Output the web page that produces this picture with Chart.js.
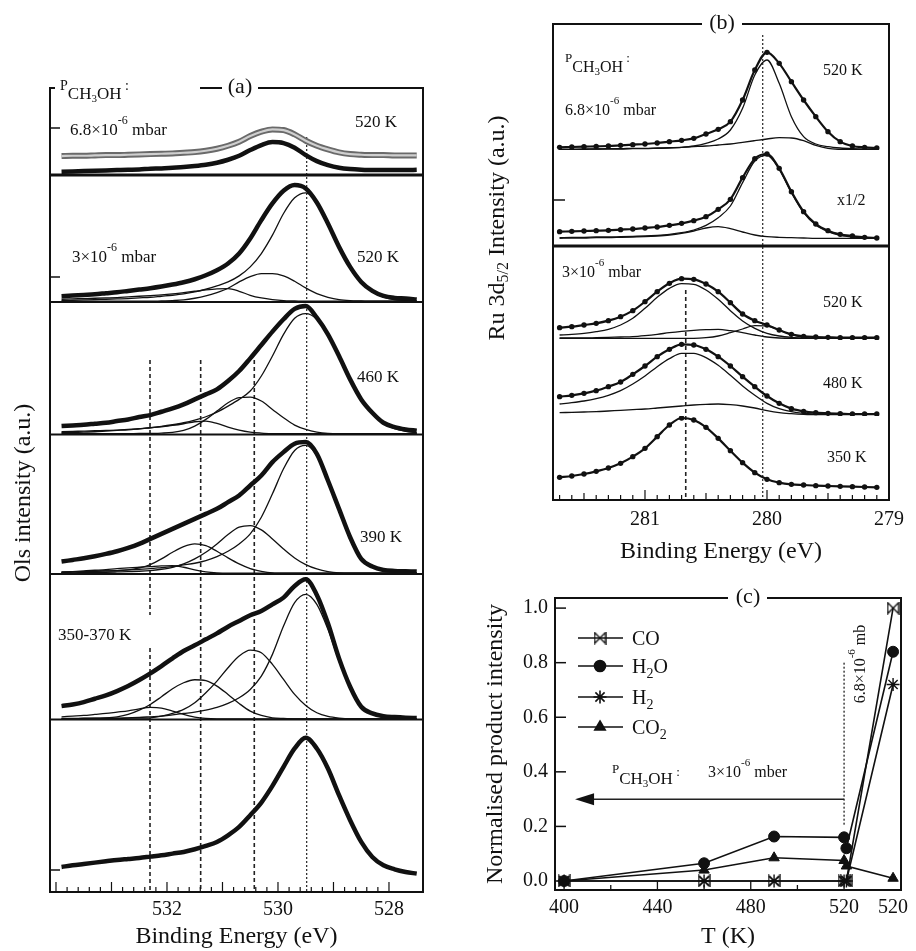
<!DOCTYPE html>
<html>
<head>
<meta charset="utf-8">
<script src="https://cdn.jsdelivr.net/npm/chart.js@4.4.1/dist/chart.umd.min.js"></script>
<style>
  html, body { margin: 0; padding: 0; background: #fff; }
  body { width: 916px; height: 951px; position: relative; overflow: hidden; }
  canvas { position: absolute; }
</style>
</head>
<body>
<canvas id="chart_a" width="460" height="951" style="left:0;top:0"></canvas>
<canvas id="chart_b" width="456" height="570" style="left:460px;top:0"></canvas>
<canvas id="chart_c" width="456" height="381" style="left:460px;top:570px"></canvas>
<script>
var serif = '"Liberation Serif", "DejaVu Serif", serif';
var ink = '#111';

// ---------- (a) O 1s spectra, binding energy grid (eV) ----------
var eA = [533.9, 533.7, 533.5, 533.3, 533.1, 532.9, 532.7, 532.5, 532.3, 532.1, 531.9,
          531.7, 531.5, 531.3, 531.1, 530.9, 530.7, 530.5, 530.3, 530.1, 529.9, 529.7,
          529.5, 529.3, 529.1, 528.9, 528.7, 528.5, 528.3, 528.1, 527.9, 527.7, 527.5];

// 6.8e-6 mbar, 520 K
var a1Open = [57,58,58,59,60,60,61,62,63,64,65,67,69,73,79,88,100,117,130,137,135,122,103,88,77,68,63,61,60,60,59,59,59];
var a1Dots = [10,11,12,13,14,15,16,17,19,20,22,24,27,31,37,46,58,75,90,99,96,82,60,42,30,22,18,16,15,15,15,15,16];
// 3e-6 mbar, 520 K
var a2Dots = [17,19,21,23,26,29,33,37,41,46,52,59,68,80,95,115,145,190,245,295,333,350,340,298,235,165,105,60,33,18,12,10,7];
var a2Main = [4,5,6,7,8,9,10,12,14,17,20,24,30,38,48,60,78,105,145,200,265,312,327,298,233,163,103,58,30,14,7,4,2];
var a2Mid  = [2,2,2,2,2,2,2,2,2,3,4,6,11,18,28,41,60,76,85,85,78,62,42,25,14,7,4,3,2,2,2,2,2];
var a2Low  = [8,9,10,11,12,13,15,17,19,21,24,28,32,36,39,40,32,20,12,7,4,3,2,2,2,2,2,2,2,2,2,2,2];
// 460 K
var a3Dots = [25,27,29,32,35,40,45,52,58,68,78,90,105,120,135,160,190,228,268,308,345,376,385,350,300,235,165,105,65,35,22,15,11];
var a3Main = [5,6,7,8,10,12,14,17,20,24,29,35,43,53,67,85,105,130,175,235,300,348,362,345,298,233,165,105,62,33,17,9,5];
var a3Mid  = [2,2,2,2,2,2,2,3,3,4,6,12,25,45,70,95,110,112,100,75,50,28,15,7,3,2,2,2,2,2,2,2,2];
var a3Low  = [8,9,10,11,12,13,15,17,20,23,27,32,38,40,33,22,13,7,4,2,2,2,2,2,2,2,2,2,2,2,2,2,2];
// 390 K
var a4Dots = [37,42,47,53,60,68,78,90,105,120,135,150,165,180,195,215,235,265,295,335,365,390,395,360,280,195,110,45,22,12,9,8,7];
var a4Main = [5,6,7,8,9,10,12,14,16,19,22,27,32,40,52,68,90,120,170,240,315,370,385,355,280,193,108,45,20,10,6,3,2];
var a4Mid  = [3,3,4,4,5,6,7,8,10,14,20,30,45,65,90,118,140,145,132,105,75,48,28,15,7,3,2,2,2,2,2,2,2];
var a4Low  = [5,6,7,8,9,10,12,18,28,45,65,82,90,85,68,48,30,16,8,3,2,2,2,2,2,2,2,2,2,2,2,2,2];
var a4Far  = [5,7,9,11,13,16,18,20,22,24,25,20,12,6,3,2,2,2,2,2,2,2,2,2,2,2,2,2,2,2,2,2,2];
// 350-370 K
var a5Dots = [40,45,52,62,72,85,100,118,138,160,183,205,222,240,258,278,295,312,325,345,365,400,420,373,288,183,98,38,18,10,7,5,4];
var a5Main = [2,2,3,3,4,4,5,6,8,10,14,18,22,28,36,48,65,90,130,195,280,350,375,345,270,175,95,38,16,7,3,2,1];
var a5Mid  = [2,2,2,3,3,3,4,4,5,10,18,30,50,80,115,155,190,208,200,165,120,75,42,20,9,4,2,2,2,2,2,2,2];
var a5Low  = [3,3,4,4,5,8,15,28,45,68,92,110,119,116,100,75,48,25,12,5,3,2,2,2,2,2,2,2,2,2,2,2,2];
var a5Far  = [8,10,12,15,18,22,26,32,36,34,25,15,7,3,2,2,2,2,2,2,2,2,2,2,2,2,2,2,2,2,2,2,2];
// clean surface
var a6Dots = [75,80,84,88,92,96,99,102,106,110,115,120,128,138,150,170,195,230,268,318,375,430,462,430,370,290,215,150,105,80,68,60,55];

var aTicks = [532, 530, 528];

// ---------- (b) Ru 3d5/2 spectra ----------
var eB = [281.7, 281.6, 281.5, 281.4, 281.3, 281.2, 281.1, 281.0, 280.9, 280.8, 280.7, 280.6, 280.5, 280.4,
          280.3, 280.2, 280.1, 280.0, 279.9, 279.8, 279.7, 279.6, 279.5, 279.4, 279.3, 279.2, 279.1];
var b1Dots = [8,9,10,11,12,14,16,18,21,25,29,35,48,62,85,150,240,293,260,205,150,100,55,25,12,8,6];
var b1Main = [2,2,2,3,3,3,4,4,5,6,8,12,20,33,60,125,225,270,200,100,40,18,10,6,4,3,2];
var b1Wide = [2,2,3,3,4,4,5,5,6,7,8,10,12,15,18,23,28,33,37,36,28,14,5,2,1,1,1];
var b2Dots = [43,44,45,46,47,49,51,54,57,62,68,76,88,110,140,205,262,276,233,163,103,66,46,35,30,26,24];
var b2Main = [25,26,26,27,27,28,29,30,32,35,40,48,62,85,120,190,255,272,230,160,100,63,43,32,27,25,24];
var b2Wide = [23,24,24,25,25,26,27,28,30,33,38,45,54,58,52,42,33,28,26,25,24,23,23,23,23,23,23];
var b3Dots = [37,40,45,50,58,70,88,115,145,170,184,182,168,145,112,78,58,45,30,17,11,9,8,7,7,7,7];
var b3Main = [15,17,20,25,32,45,65,95,128,155,169,167,150,122,88,57,35,20,12,8,6,5,5,5,5,5,5];
var b3Met  = [5,5,5,5,5,5,5,5,5,5,5,5,7,12,22,33,43,42,30,16,8,5,5,5,5,5,5];
var b3Wide = [6,6,6,7,8,9,10,13,17,22,26,29,31,32,28,22,15,9,6,5,5,5,5,5,5,5,5];
var b4Dots = [58,62,68,76,88,102,125,150,178,200,215,213,200,178,150,118,88,60,38,22,14,10,8,7,6,6,6];
var b4Main = [36,40,45,52,62,76,96,120,148,172,188,188,175,152,122,90,62,38,22,13,8,6,5,5,5,5,5];
var b4Wide = [10,11,12,13,15,17,19,21,24,27,30,33,35,36,34,30,24,16,10,7,5,4,4,4,4,4,4];
var b5Dots = [68,72,78,86,96,110,130,155,190,225,246,240,218,185,148,112,82,62,52,47,45,43,42,41,40,39,38];

var bTicks = [281, 280, 279];

// ---------- (c) normalised product intensity ----------
// 520 K was measured twice at 3e-6 mbar (plotted at 520/521); 541 = 520 K at 6.8e-6 mbar
var tempK   = [400, 460, 490, 520, 521, 541];
var tTicks  = [400, 440, 480, 520, 541];
var tLabels = ['400', '440', '480', '520', '520'];
var coVals  = [0, 0, 0, 0, 0, 1.0];
var h2oVals = [0, 0.065, 0.163, 0.16, 0.12, 0.84];
var h2Vals  = [0, 0, 0, 0, 0, 0.72];
var co2Vals = [0, 0.04, 0.085, 0.075, 0.055, 0.01];
var yTicksC = [0, 0.2, 0.4, 0.6, 0.8, 1.0];

Chart.defaults.font.family = serif;
Chart.defaults.color = ink;
Chart.defaults.animation = false;

function pts(xs, ys) {
    return ys.map(function (v, i) { return {x: xs[i], y: v}; });
}

function curve(xs, ys, axis, w, extra) {
    return Object.assign({
        data: pts(xs, ys),
        yAxisID: axis,
        borderColor: ink,
        borderWidth: w,
        pointRadius: 0,
        fill: false,
        cubicInterpolationMode: 'monotone'
    }, extra || {});
}

function stackAxis(stack, max, weight) {
    return {
        type: 'linear', position: 'left', stack: stack, stackWeight: max, weight: weight,
        min: 0, max: max,
        ticks: {display: false},
        grid: {display: false, drawTicks: false},
        border: {display: false},
        afterFit: function (s) { s.width = 0; }
    };
}

function hline(ctx, x0, x1, y, w) {
    ctx.lineWidth = w; ctx.beginPath(); ctx.moveTo(x0, y); ctx.lineTo(x1, y); ctx.stroke();
}
function vline(ctx, x, y0, y1, w) {
    ctx.lineWidth = w; ctx.beginPath(); ctx.moveTo(x, y0); ctx.lineTo(x, y1); ctx.stroke();
}

// parts: [text, size, dy]
function rich(ctx, x, y, parts) {
    var cx = x;
    parts.forEach(function (p) {
        ctx.font = p[1] + 'px ' + serif;
        ctx.fillText(p[0], cx, y + (p[2] || 0));
        cx += ctx.measureText(p[0]).width;
    });
    return cx - x;
}
function richWidth(ctx, parts) {
    var w = 0;
    parts.forEach(function (p) { ctx.font = p[1] + 'px ' + serif; w += ctx.measureText(p[0]).width; });
    return w;
}
function richRotated(ctx, cx, cy, parts) {
    ctx.save();
    ctx.translate(cx, cy);
    ctx.rotate(-Math.PI / 2);
    ctx.textBaseline = 'middle';
    rich(ctx, -richWidth(ctx, parts) / 2, 0, parts);
    ctx.restore();
}
function label(ctx, text, x, y, size) {
    ctx.font = size + 'px ' + serif;
    ctx.fillText(text, x, y);
}

// ================= panel (a) =================
var rowsA = [261, 380, 397, 418, 436, 517];
var axesA = {};
rowsA.forEach(function (h, i) { axesA['yA' + (i + 1)] = stackAxis('a', h, rowsA.length - i); });

var dsA = [
    curve(eA, a1Dots, 'yA1', 4.5),
    curve(eA, a1Open, 'yA1', 2.2, {borderColor: '#cfcfcf'}),
    curve(eA, a1Open, 'yA1', 6, {borderColor: '#6a6a6a'}),
    curve(eA, a2Dots, 'yA2', 4.5),
    curve(eA, a2Main, 'yA2', 1.3),
    curve(eA, a2Mid, 'yA2', 1.3),
    curve(eA, a2Low, 'yA2', 1.3),
    curve(eA, a3Dots, 'yA3', 4.5),
    curve(eA, a3Main, 'yA3', 1.3),
    curve(eA, a3Mid, 'yA3', 1.3),
    curve(eA, a3Low, 'yA3', 1.3),
    curve(eA, a4Dots, 'yA4', 4.5),
    curve(eA, a4Main, 'yA4', 1.3),
    curve(eA, a4Mid, 'yA4', 1.3),
    curve(eA, a4Low, 'yA4', 1.3),
    curve(eA, a4Far, 'yA4', 1.3),
    curve(eA, a5Dots, 'yA5', 4.5),
    curve(eA, a5Main, 'yA5', 1.3),
    curve(eA, a5Mid, 'yA5', 1.3),
    curve(eA, a5Low, 'yA5', 1.3),
    curve(eA, a5Far, 'yA5', 1.3),
    curve(eA, a6Dots, 'yA6', 4.5)
];

var refLinesA = [
    {e: 532.306, dash: [4, 3], w: 1.6, spans: [[360, 615], [648, 892]]},
    {e: 531.393, dash: [4, 3], w: 1.6, spans: [[360, 892]]},
    {e: 530.427, dash: [4, 3], w: 1.6, spans: [[360, 892]]},
    {e: 529.483, dash: [2, 2], w: 1.2, spans: [[137, 892]]}
];

var decorA = {
    id: 'decorA',
    beforeDatasetsDraw: function (chart) {
        var ctx = chart.ctx, xs = chart.scales.x;
        ctx.save();
        ctx.strokeStyle = '#222';
        refLinesA.forEach(function (r) {
            var px = xs.getPixelForValue(r.e);
            ctx.setLineDash(r.dash);
            r.spans.forEach(function (s) { vline(ctx, px, s[0], s[1], r.w); });
        });
        ctx.restore();
    },
    afterDraw: function (chart) {
        var ctx = chart.ctx, a = chart.chartArea, xs = chart.scales.x;
        ctx.save();
        ctx.strokeStyle = ink; ctx.fillStyle = ink;
        ['yA1', 'yA2', 'yA3', 'yA4', 'yA5'].forEach(function (id, i) {
            hline(ctx, a.left, a.right, chart.scales[id].bottom, i === 0 ? 3 : 2);
        });
        vline(ctx, a.left, a.top - 1, a.bottom + 1, 2);
        vline(ctx, a.right, a.top - 1, a.bottom + 1, 2);
        hline(ctx, a.left - 1, a.right + 1, a.bottom, 2);
        hline(ctx, a.left - 1, 55, a.top, 2);
        hline(ctx, 200, 222, a.top, 2);
        hline(ctx, 258, a.right + 1, a.top, 2);
        for (var k = 0; k <= 30; k++) {
            var px = xs.getPixelForValue(528 + k * 0.2);
            vline(ctx, px, a.bottom - (k % 5 === 0 ? 10 : 5), a.bottom, 1.2);
        }
        [128, 277, 870].forEach(function (y) { hline(ctx, a.left, a.left + 10, y, 1.5); });

        ctx.textBaseline = 'alphabetic'; ctx.textAlign = 'left';
        rich(ctx, 60, 90, [['P', 14], ['CH', 17, 9], ['3', 11, 12], ['OH', 17, 9], [' :', 14, 0]]);
        rich(ctx, 70, 135, [['6.8\u00d710', 17], ['-6', 12, -11], [' mbar', 17]]);
        label(ctx, '520 K', 355, 127, 17);
        rich(ctx, 72, 262, [['3\u00d710', 17], ['-6', 12, -11], [' mbar', 17]]);
        label(ctx, '520 K', 357, 262, 17);
        label(ctx, '460 K', 357, 382, 17);
        label(ctx, '390 K', 360, 542, 17);
        label(ctx, '350-370 K', 58, 640, 17);
        ctx.textAlign = 'center'; ctx.textBaseline = 'middle';
        label(ctx, '(a)', 240, 87, 22);
        ctx.textAlign = 'left';
        richRotated(ctx, 24, 493, [['Ols intensity (a.u.)', 24]]);
        ctx.restore();
    }
};

new Chart(document.getElementById('chart_a').getContext('2d'), {
    type: 'line',
    data: {datasets: dsA},
    options: {
        responsive: false,
        animation: false,
        layout: {padding: {left: 50, right: 37, top: 88, bottom: 0}},
        plugins: {legend: {display: false}, tooltip: {enabled: false}},
        scales: Object.assign({
            x: {
                type: 'linear', min: 527.387, max: 534.108, reverse: true,
                afterBuildTicks: function (s) { s.ticks = aTicks.map(function (v) { return {value: v}; }); },
                ticks: {font: {size: 20}, color: ink, padding: 6, maxRotation: 0,
                        callback: function (v) { return String(v); }},
                grid: {display: false, drawTicks: false},
                border: {display: false},
                title: {display: true, text: 'Binding Energy (eV)', font: {size: 24}, color: ink,
                        padding: {top: 0, bottom: 0}},
                afterFit: function (s) { s.height = 59; }
            }
        }, axesA)
    },
    plugins: [decorA]
});

// ================= panel (b) =================
var rowsB = [378, 288, 282, 228, 252];
var axesB = {};
rowsB.forEach(function (h, i) { axesB['yB' + (i + 1)] = stackAxis('b', h, rowsB.length - i); });

function dotted(xs, ys, axis) {
    return curve(xs, ys, axis, 2.2, {pointRadius: 2.7, pointBackgroundColor: ink, pointBorderWidth: 0});
}

var dsB = [
    dotted(eB, b1Dots, 'yB1'),
    curve(eB, b1Main, 'yB1', 1.3),
    curve(eB, b1Wide, 'yB1', 1.3),
    dotted(eB, b2Dots, 'yB2'),
    curve(eB, b2Main, 'yB2', 1.3),
    curve(eB, b2Wide, 'yB2', 1.3),
    dotted(eB, b3Dots, 'yB3'),
    curve(eB, b3Main, 'yB3', 1.3),
    curve(eB, b3Met, 'yB3', 1.3),
    curve(eB, b3Wide, 'yB3', 1.3),
    dotted(eB, b4Dots, 'yB4'),
    curve(eB, b4Main, 'yB4', 1.3),
    curve(eB, b4Wide, 'yB4', 1.3),
    dotted(eB, b5Dots, 'yB5')
];

var refLinesB = [
    {e: 280.035, dash: [2, 2], w: 1.2, spans: [[35, 500]]},
    {e: 280.666, dash: [4, 3], w: 1.6, spans: [[290, 500]]}
];

var decorB = {
    id: 'decorB',
    beforeDatasetsDraw: function (chart) {
        var ctx = chart.ctx, xs = chart.scales.x;
        ctx.save();
        ctx.strokeStyle = '#222';
        refLinesB.forEach(function (r) {
            var px = xs.getPixelForValue(r.e);
            ctx.setLineDash(r.dash);
            r.spans.forEach(function (s) { vline(ctx, px, s[0], s[1], r.w); });
        });
        ctx.restore();
    },
    afterDraw: function (chart) {
        var ctx = chart.ctx, a = chart.chartArea, xs = chart.scales.x;
        ctx.save();
        ctx.strokeStyle = ink; ctx.fillStyle = ink;
        hline(ctx, a.left, a.right, chart.scales.yB2.bottom, 3);
        vline(ctx, a.left, a.top - 1, a.bottom + 1, 2);
        vline(ctx, a.right, a.top - 1, a.bottom + 1, 2);
        hline(ctx, a.left - 1, a.right + 1, a.bottom, 2);
        hline(ctx, a.left - 1, 702 - 460, a.top, 2);
        hline(ctx, 742 - 460, a.right + 1, a.top, 2);
        for (var k = 0; k <= 27; k++) {
            var px = xs.getPixelForValue(279 + k * 0.1);
            vline(ctx, px, a.bottom - (k % 10 === 0 ? 10 : (k % 5 === 0 ? 7 : 5)), a.bottom, 1.2);
        }
        hline(ctx, a.left, a.left + 12, 200, 1.5);

        ctx.translate(-460, 0);
        ctx.textBaseline = 'alphabetic'; ctx.textAlign = 'left';
        rich(ctx, 565, 62, [['P', 13], ['CH', 16, 10], ['3', 11, 13], ['OH', 16, 10], [' :', 13, 0]]);
        rich(ctx, 565, 115, [['6.8\u00d710', 16], ['-6', 11, -11], [' mbar', 16]]);
        label(ctx, '520 K', 823, 75, 16);
        label(ctx, 'x1/2', 837, 205, 16);
        rich(ctx, 562, 277, [['3\u00d710', 16], ['-6', 11, -11], [' mbar', 16]]);
        label(ctx, '520 K', 823, 307, 16);
        label(ctx, '480 K', 823, 388, 16);
        label(ctx, '350 K', 827, 462, 16);
        ctx.textAlign = 'center'; ctx.textBaseline = 'middle';
        label(ctx, '(b)', 722, 23, 22);
        ctx.textAlign = 'left';
        richRotated(ctx, 498, 228, [['Ru 3d', 24], ['5/2', 16, 6], [' Intensity (a.u.)', 24]]);
        ctx.restore();
    }
};

new Chart(document.getElementById('chart_b').getContext('2d'), {
    type: 'line',
    data: {datasets: dsB},
    options: {
        responsive: false,
        animation: false,
        layout: {padding: {left: 93, right: 27, top: 24, bottom: 0}},
        plugins: {legend: {display: false}, tooltip: {enabled: false}},
        scales: Object.assign({
            x: {
                type: 'linear', min: 279.0, max: 281.754, reverse: true,
                afterBuildTicks: function (s) { s.ticks = bTicks.map(function (v) { return {value: v}; }); },
                ticks: {font: {size: 20}, color: ink, padding: 8, maxRotation: 0,
                        callback: function (v) { return String(v); }},
                grid: {display: false, drawTicks: false},
                border: {display: false},
                title: {display: true, text: 'Binding Energy (eV)', font: {size: 24}, color: ink,
                        padding: {top: 0, bottom: 4}},
                afterFit: function (s) { s.height = 70; }
            }
        }, axesB)
    },
    plugins: [decorB]
});

// ================= panel (c) =================
function bowtie(size) {
    var c = document.createElement('canvas');
    c.width = size; c.height = size;
    var g = c.getContext('2d');
    g.strokeStyle = ink; g.lineWidth = 1.4;
    g.beginPath();
    g.moveTo(1, 1); g.lineTo(size - 1, size - 1); g.lineTo(size - 1, 1); g.lineTo(1, size - 1); g.closePath();
    g.stroke();
    return c;
}
var coMark = bowtie(13);

var seriesC = [
    {name: [['CO', 20]], vals: coVals, style: coMark, r: 6, bw: 1.4},
    {name: [['H', 20], ['2', 14, 5], ['O', 20]], vals: h2oVals, style: 'circle', r: 5.5, bw: 1},
    {name: [['H', 20], ['2', 14, 5]], vals: h2Vals, style: 'star', r: 6.5, bw: 1.4},
    {name: [['CO', 20], ['2', 14, 5]], vals: co2Vals, style: 'triangle', r: 6, bw: 1}
];

var dsC = seriesC.map(function (s) {
    return {
        data: pts(tempK, s.vals),
        borderColor: ink,
        backgroundColor: ink,
        borderWidth: 1.6,
        pointStyle: s.style,
        pointRadius: s.r,
        pointBorderWidth: s.bw,
        pointBackgroundColor: ink,
        pointBorderColor: ink,
        tension: 0,
        clip: false
    };
});

var legendRowsC = [638, 666, 697, 727];

var decorC = {
    id: 'decorC',
    beforeDatasetsDraw: function (chart) {
        var ctx = chart.ctx, xs = chart.scales.x, ys = chart.scales.y;
        var x520 = xs.getPixelForValue(520);
        ctx.save();
        ctx.strokeStyle = '#222';
        ctx.setLineDash([2, 2]);
        vline(ctx, x520, ys.getPixelForValue(0.8), ys.getPixelForValue(0.2), 1.3);
        ctx.setLineDash([]);
        var yA = ys.getPixelForValue(0.3), tip = xs.getPixelForValue(404.7);
        hline(ctx, tip + 14, x520, yA, 1.5);
        ctx.fillStyle = ink;
        ctx.beginPath(); ctx.moveTo(tip, yA); ctx.lineTo(tip + 19, yA - 6); ctx.lineTo(tip + 19, yA + 6); ctx.closePath(); ctx.fill();
        ctx.restore();
    },
    afterDraw: function (chart) {
        var ctx = chart.ctx, a = chart.chartArea, xs = chart.scales.x, ys = chart.scales.y;
        ctx.save();
        ctx.strokeStyle = ink; ctx.fillStyle = ink;
        vline(ctx, a.left, a.top - 1, a.bottom + 1, 2);
        vline(ctx, a.right, a.top - 1, a.bottom + 1, 2);
        hline(ctx, a.left - 1, a.right + 1, a.bottom, 2);
        hline(ctx, a.left - 1, 728 - 460, a.top, 2);
        hline(ctx, 767 - 460, a.right + 1, a.top, 2);
        [400, 420, 440, 460, 480, 500, 520].forEach(function (t, i) {
            vline(ctx, xs.getPixelForValue(t), a.bottom - (i % 2 === 0 ? 9 : 5), a.bottom, 1.3);
        });
        yTicksC.forEach(function (v) { hline(ctx, a.left, a.left + 11, ys.getPixelForValue(v), 1.5); });

        ctx.translate(-460, -570);
        ctx.textBaseline = 'alphabetic'; ctx.textAlign = 'left';
        seriesC.forEach(function (s, i) {
            var y = legendRowsC[i];
            ctx.setLineDash([]);
            hline(ctx, 578, 623, y, 1.6);
            Chart.helpers.drawPoint(ctx, {pointStyle: s.style, radius: s.r, borderWidth: s.bw, rotation: 0}, 600, y);
            rich(ctx, 632, y + 7, s.name);
        });
        rich(ctx, 612, 773, [['P', 13], ['CH', 17, 11], ['3', 11, 14], ['OH', 17, 11], [' :', 13, 3]]);
        rich(ctx, 708, 777, [['3\u00d710', 16], ['-6', 11, -11], [' mber', 16]]);
        richRotated(ctx, 861, 664, [['6.8\u00d710', 16], ['-6', 11, -9], [' mb', 16]]);
        ctx.textAlign = 'center'; ctx.textBaseline = 'middle';
        label(ctx, '(c)', 748, 597, 22);
        ctx.restore();
    }
};

new Chart(document.getElementById('chart_c').getContext('2d'), {
    type: 'line',
    data: {datasets: dsC},
    options: {
        responsive: false,
        animation: false,
        layout: {padding: {left: 0, right: 15, top: 28, bottom: 0}},
        plugins: {legend: {display: false}, tooltip: {enabled: false}},
        scales: {
            x: {
                type: 'linear', min: 396.1, max: 544.4,
                afterBuildTicks: function (s) { s.ticks = tTicks.map(function (v) { return {value: v}; }); },
                ticks: {font: {size: 20}, color: ink, padding: 6, maxRotation: 0,
                        callback: function (v, i) { return tLabels[i]; }},
                grid: {display: false, drawTicks: false},
                border: {display: false},
                title: {display: true, text: 'T (K)', font: {size: 24}, color: ink, padding: {top: 0, bottom: 0}},
                afterFit: function (s) { s.height = 61; }
            },
            y: {
                type: 'linear', min: -0.033, max: 1.037,
                afterBuildTicks: function (s) { s.ticks = yTicksC.map(function (v) { return {value: v}; }); },
                ticks: {font: {size: 20}, color: ink, padding: 7,
                        callback: function (v) { return v.toFixed(1); }},
                grid: {display: false, drawTicks: false},
                border: {display: false},
                title: {display: true, text: 'Normalised product intensity', font: {size: 24}, color: ink,
                        padding: {top: 21, bottom: 0}},
                afterFit: function (s) { s.width = 95; }
            }
        }
    },
    plugins: [decorC]
});
</script>
</body>
</html>
